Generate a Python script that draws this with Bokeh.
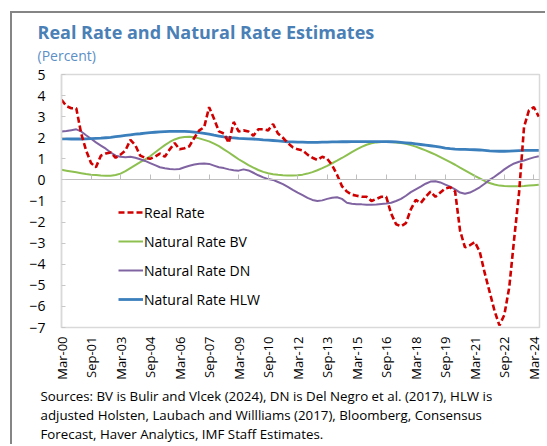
from math import pi
from bokeh.plotting import figure
from bokeh.models import (LinearAxis, FixedTicker, Legend, LegendItem, Title,
                          Range1d)
from bokeh.embed import file_html
from bokeh.resources import INLINE

# ---------------- data (quarterly, Mar-00 .. Jun-24) ----------------
real_rate = [3.80, 3.50, 3.40, 3.40, 2.20, 1.40, 0.80, 0.60, 1.15, 1.25,
             1.30, 1.05, 1.20, 1.40, 1.90, 1.65, 1.15, 1.05, 1.00, 1.10,
             1.25, 1.10, 1.45, 1.75, 1.45, 1.50, 1.60, 2.00, 2.35, 2.50,
             3.45, 2.90, 2.30, 2.20, 1.75, 2.75, 2.30, 2.35, 2.30, 2.10,
             2.40, 2.40, 2.35, 2.65, 2.20, 2.00, 1.75, 1.55, 1.45, 1.40,
             1.20, 1.05, 0.95, 1.10, 1.00, 0.70, 0.25, -0.30, -0.55, -0.70,
             -0.75, -0.80, -0.80, -1.00, -0.90, -0.80, -0.80, -1.60, -2.10, -2.20,
             -2.05, -1.40, -0.95, -1.10, -0.80, -0.55, -0.80, -0.60, -0.40, -0.35,
             -0.55, -2.40, -3.20, -3.10, -2.95, -3.40, -4.40, -5.30, -6.20, -6.90,
             -6.40, -5.10, -2.80, -0.60, 2.50, 3.30, 3.45, 3.00]

natural_bv = [0.48, 0.44, 0.40, 0.36, 0.32, 0.28, 0.25, 0.23, 0.21, 0.20,
              0.20, 0.23, 0.30, 0.42, 0.56, 0.70, 0.84, 0.97, 1.12, 1.30,
              1.48, 1.65, 1.80, 1.92, 2.00, 2.04, 2.05, 2.02, 1.97, 1.90,
              1.83, 1.72, 1.60, 1.45, 1.30, 1.14, 0.98, 0.84, 0.70, 0.58,
              0.47, 0.38, 0.32, 0.27, 0.24, 0.22, 0.21, 0.21, 0.22, 0.25,
              0.30, 0.37, 0.46, 0.56, 0.67, 0.79, 0.91, 1.04, 1.18, 1.32,
              1.45, 1.57, 1.67, 1.74, 1.78, 1.80, 1.81, 1.80, 1.78, 1.75,
              1.71, 1.65, 1.58, 1.49, 1.40, 1.30, 1.20, 1.08, 0.96, 0.84,
              0.72, 0.58, 0.45, 0.32, 0.19, 0.07, -0.05, -0.15, -0.22, -0.27,
              -0.29, -0.30, -0.30, -0.30, -0.29, -0.27, -0.25, -0.23]

natural_dn = [2.30, 2.32, 2.36, 2.40, 2.30, 2.12, 1.95, 1.78, 1.63, 1.48,
              1.30, 1.15, 1.10, 1.08, 1.10, 1.05, 0.98, 0.90, 0.80, 0.70,
              0.60, 0.55, 0.52, 0.50, 0.52, 0.60, 0.67, 0.73, 0.77, 0.78,
              0.76, 0.68, 0.60, 0.56, 0.50, 0.46, 0.44, 0.50, 0.45, 0.34,
              0.22, 0.12, 0.04, 0.00, -0.10, -0.20, -0.33, -0.47, -0.60, -0.72,
              -0.85, -0.95, -1.00, -0.97, -0.90, -0.85, -0.82, -0.90, -1.08, -1.13,
              -1.15, -1.16, -1.18, -1.18, -1.17, -1.14, -1.12, -1.08, -1.00, -0.90,
              -0.75, -0.58, -0.45, -0.32, -0.18, -0.08, -0.06, -0.12, -0.22, -0.32,
              -0.45, -0.60, -0.66, -0.60, -0.48, -0.35, -0.18, 0.00, 0.15, 0.32,
              0.50, 0.65, 0.78, 0.86, 0.92, 1.00, 1.07, 1.12]

natural_hlw = [1.95, 1.95, 1.94, 1.94, 1.94, 1.95, 1.96, 1.97, 1.98, 2.00,
               2.02, 2.05, 2.08, 2.11, 2.14, 2.17, 2.19, 2.22, 2.24, 2.26,
               2.28, 2.29, 2.30, 2.30, 2.30, 2.30, 2.29, 2.27, 2.24, 2.21,
               2.17, 2.12, 2.08, 2.04, 2.01, 1.99, 1.97, 1.96, 1.95, 1.94,
               1.92, 1.90, 1.89, 1.87, 1.85, 1.83, 1.81, 1.80, 1.79, 1.79,
               1.78, 1.78, 1.78, 1.79, 1.79, 1.80, 1.80, 1.81, 1.81, 1.82,
               1.82, 1.82, 1.82, 1.82, 1.82, 1.82, 1.82, 1.81, 1.80, 1.78,
               1.76, 1.74, 1.71, 1.68, 1.65, 1.62, 1.59, 1.55, 1.51, 1.48,
               1.46, 1.45, 1.45, 1.44, 1.43, 1.42, 1.40, 1.38, 1.37, 1.36,
               1.36, 1.37, 1.38, 1.39, 1.40, 1.40, 1.40, 1.40]

tick_labels = ["Mar-00", "Sep-01", "Mar-03", "Sep-04", "Mar-06", "Sep-07",
               "Mar-09", "Sep-10", "Mar-12", "Sep-13", "Mar-15", "Sep-16",
               "Mar-18", "Sep-19", "Mar-21", "Sep-22", "Mar-24"]
y_ticks = [-7, -6, -5, -4, -3, -2, -1, 0, 1, 2, 3, 4, 5]

title_text = "Real Rate and Natural Rate Estimates"
subtitle_text = "(Percent)"
source_lines = [
    "Sources: BV is Bulir and Vlcek (2024), DN is Del Negro et al. (2017), HLW is",
    "adjusted  Holsten, Laubach and Willliams (2017), Bloomberg, Consensus",
    "Forecast, Haver Analytics, IMF Staff Estimates.",
]

# ---------------- figure ----------------
q = list(range(len(real_rate)))
ticks = [6 * i for i in range(len(tick_labels))]
FONT = "Open Sans"

p = figure(width=535, height=433, output_backend="svg", toolbar_location=None,
           x_range=Range1d(0, 97.15), y_range=Range1d(-7, 5), title=None,
           min_border_left=49, min_border_right=8, min_border_top=61,
           min_border_bottom=119)
p.margin = (11, 0, 0, 10)
p.styles = {"border-left": "2px solid #858585", "border-top": "2px solid #858585"}
p.xgrid.visible = False
p.ygrid.visible = False
p.outline_line_color = "#d9d9d9"
p.outline_line_width = 1.5
p.background_fill_color = "white"
p.border_fill_color = "white"

# bottom axis with rotated labels
xa = p.xaxis[0]
xa.ticker = FixedTicker(ticks=ticks)
xa.major_label_overrides = {t: lab for t, lab in zip(ticks, tick_labels)}
xa.major_label_orientation = pi / 2
xa.axis_line_color = None
xa.major_tick_line_color = None
xa.minor_tick_line_color = None
xa.major_tick_out = 0
xa.major_tick_in = 0
xa.major_label_standoff = 9
xa.major_label_text_font = FONT
xa.major_label_text_font_size = "13px"
xa.major_label_text_color = "black"

# zero line axis with inside ticks
za = LinearAxis(fixed_location=0, ticker=FixedTicker(ticks=ticks),
                axis_line_color="#bfbfbf", axis_line_width=1.2,
                major_tick_line_color="#bfbfbf", major_tick_in=5,
                major_tick_out=0, minor_tick_line_color=None,
                major_label_standoff=0,
                major_label_text_font_size="0px", major_label_text_alpha=0)
p.add_layout(za, "below")

ya = p.yaxis[0]
ya.ticker = FixedTicker(ticks=y_ticks)
ya.axis_line_color = "#d9d9d9"
ya.axis_line_width = 1.5
ya.major_tick_in = 4
ya.major_tick_out = 0
ya.major_tick_line_color = "#c8c8c8"
ya.minor_tick_line_color = None
ya.major_label_standoff = 16
ya.major_label_text_font = FONT
ya.major_label_text_font_size = "14px"
ya.major_label_text_color = "black"

r_bv = p.line(q, natural_bv, line_color="#8dc050", line_width=2)
r_dn = p.line(q, natural_dn, line_color="#8064a2", line_width=2)
r_hlw = p.line(q, natural_hlw, line_color="#3c7fbd", line_width=2.8)
r_real = p.line(q, real_rate, line_color="#d00000", line_width=2.6, line_dash="6 3")

legend = Legend(items=[LegendItem(label="Real Rate", renderers=[r_real]),
                       LegendItem(label="Natural Rate BV", renderers=[r_bv]),
                       LegendItem(label="Natural Rate DN", renderers=[r_dn]),
                       LegendItem(label="Natural Rate HLW", renderers=[r_hlw])],
                location=(57, 18), orientation="vertical",
                background_fill_alpha=0, border_line_color=None,
                padding=0, margin=0, spacing=9, glyph_width=25,
                glyph_height=20, label_height=20, label_standoff=1,
                label_text_font=FONT, label_text_font_size="14px",
                label_text_color="black")
p.add_layout(legend, "center")

# titles: first added sits closest to the frame (a thin spacer first)
p.add_layout(Title(text=" ", standoff=7, text_font_size="1px"), "above")
p.add_layout(Title(text=subtitle_text, align="left", offset=-24, standoff=0,
                   text_font=FONT, text_font_size="14px",
                   text_font_style="normal", text_color="#5b8fc6"), "above")
p.add_layout(Title(text=title_text, align="left", offset=-24, standoff=0,
                   text_font=FONT, text_font_size="18px",
                   text_font_style="bold", text_color="#4a80b6"), "above")

# footnote as one multi-line title
p.add_layout(Title(text="\n".join(source_lines), align="left", offset=-21,
                   standoff=4, text_line_height=1.07,
                   text_font=FONT, text_font_size="13.3px",
                   text_font_style="normal", text_color="black"), "below")

open("out.html", "w").write(file_html(p, INLINE))
